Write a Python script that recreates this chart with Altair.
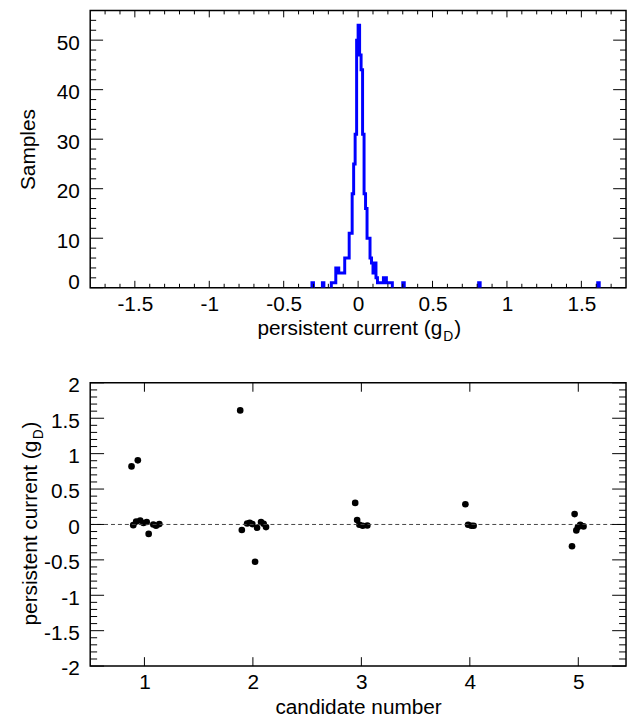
import altair as alt
import pandas as pd

FONT = "Liberation Sans"
FS = 21

# ---------------- top panel: histogram of persistent current ----------------
bin_width = 0.01
bin_left = [-0.31, -0.24, -0.18, -0.17, -0.16, -0.15, -0.14, -0.13, -0.12, -0.11,
            -0.10, -0.09, -0.08, -0.07, -0.06, -0.05, -0.04, -0.03, -0.02, -0.01,
            0.00, 0.01, 0.02, 0.03, 0.04, 0.05, 0.06, 0.07, 0.08, 0.09,
            0.10, 0.11, 0.12, 0.13, 0.14, 0.15, 0.16, 0.17, 0.18, 0.19,
            0.20, 0.21, 0.22, 0.30, 0.81, 1.61]
bin_count = [1, 1, 1, 1, 1, 4, 4, 3, 3, 3,
             3, 6, 6, 6, 11, 11, 19, 25, 31, 50,
             53, 47, 44, 31, 19, 16, 10, 10, 6, 5,
             3, 5, 2, 1, 1, 1, 1, 2, 2, 1,
             1, 1, 1, 1, 1, 1]

hist_x_labels = [-1.5, -1, -0.5, 0, 0.5, 1, 1.5]
hist_y_labels = [0, 10, 20, 30, 40, 50]

# ---------------- bottom panel: candidates ----------------
cand_x = [0.881, 0.939, 0.897, 0.924, 0.961, 0.991, 1.021, 1.039, 1.082, 1.107, 1.137,
          1.883, 1.898, 1.947, 1.971, 1.995, 2.020, 2.038, 2.075, 2.099, 2.121,
          2.943, 2.961, 2.982, 3.012, 3.055,
          3.959, 3.984, 4.014, 4.035,
          4.942, 4.966, 4.982, 4.997, 5.018, 5.048]
cand_y = [0.82, 0.905, -0.01, 0.04, 0.056, 0.02, 0.034, -0.134, 0.0, -0.018, 0.005,
          1.61, -0.079, 0.014, 0.024, 0.005, -0.527, -0.046, 0.034, 0.01, -0.037,
          0.304, 0.062, -0.004, -0.018, -0.014,
          0.286, -0.004, -0.018, -0.018,
          -0.308, 0.146, -0.084, -0.036, -0.004, -0.028]

cand_x_labels = [1, 2, 3, 4, 5]
cand_y_labels = [-2, -1.5, -1, -0.5, 0, 0.5, 1, 1.5, 2]
zero_level = [0]

title_main = "persistent current (g"
title_sub = "D"
title_close = ")"
y_title_top = "Samples"
x_title_bottom = "candidate number"

W = 541
H1 = 280
H2 = 286
MAIN_W = 187   # approx. pixel width of title_main
SUB_W = 10


def outline(lefts, counts, w):
    rows = []
    run = 0
    prev_right = None
    for left, c in sorted(zip(lefts, counts)):
        if c <= 0:
            continue
        if prev_right is None or abs(left - prev_right) > 1e-6:
            if prev_right is not None:
                rows.append((prev_right, 0, run))
                run += 1
            rows.append((left, 0, run))
        right = round(left + w, 4)
        rows.append((left, c, run))
        rows.append((right, c, run))
        prev_right = right
    rows.append((prev_right, 0, run))
    return pd.DataFrame({"x": [r[0] for r in rows], "y": [r[1] for r in rows],
                         "run": [r[2] for r in rows], "i": list(range(len(rows)))})


def tick_layers(vals, orient, length, scale, axis, w, h):
    df = pd.DataFrame({"v": vals})
    base = alt.Chart(df).mark_rule(color="black", strokeWidth=1)
    if orient == "x":
        enc = alt.X("v:Q", scale=scale, axis=axis)
        return [base.encode(x=enc, y=alt.value(h), y2=alt.value(h - length)),
                base.encode(x=enc, y=alt.value(0), y2=alt.value(length))]
    enc = alt.Y("v:Q", scale=scale, axis=axis)
    return [base.encode(y=enc, x=alt.value(0), x2=alt.value(length)),
            base.encode(y=enc, x=alt.value(w), x2=alt.value(w - length))]


def text_layer(txt, x, y, size, align, angle=0, dx=0, dy=0):
    return alt.Chart(pd.DataFrame({"a": [0]})).mark_text(
        text=txt, font=FONT, fontSize=size, align=align, baseline="alphabetic",
        angle=angle, dx=dx, dy=dy, color="black"
    ).encode(x=alt.value(x), y=alt.value(y))


# ---------- top ----------
xs1 = alt.Scale(domain=[-1.8, 1.8], nice=False, zero=False)
ys1 = alt.Scale(domain=[0, 56], nice=False, zero=False)

ax_x1 = alt.Axis(values=hist_x_labels, ticks=False, domain=False, grid=False,
                 labelExpr="'' + datum.value", labelPadding=6, title=None)
ax_y1 = alt.Axis(values=hist_y_labels, ticks=False, domain=False, grid=False,
                 labelExpr="'' + datum.value", labelPadding=11, labelOffset=3,
                 labelFlush=True, labelFlushOffset=2,
                 title=y_title_top, titlePadding=18)

hist = alt.Chart(outline(bin_left, bin_count, bin_width)).mark_line(
    color="#0000ff", strokeWidth=3, clip=True, strokeJoin="miter"
).encode(
    x=alt.X("x:Q", scale=xs1, axis=ax_x1),
    y=alt.Y("y:Q", scale=ys1, axis=ax_y1),
    order="i:Q",
    detail="run:N",
)

x1_minor = [round(i * 0.1, 1) for i in range(-17, 18) if i % 5 != 0]
y1_minor = [v for v in range(2, 56, 2) if v % 10 != 0]

top_layers = [hist]
top_layers += tick_layers(hist_x_labels, "x", 7, xs1, ax_x1, W, H1)
top_layers += tick_layers(x1_minor, "x", 4, xs1, ax_x1, W, H1)
top_layers += tick_layers(hist_y_labels, "y", 13, ys1, ax_y1, W, H1)
top_layers += tick_layers(y1_minor, "y", 6, ys1, ax_y1, W, H1)

# title with subscript
xa = W / 2 - (MAIN_W + SUB_W + 7) / 2 + MAIN_W
ya = H1 + 48
top_layers += [
    text_layer(title_main, xa, ya, FS, "right"),
    text_layer(title_sub, xa + 1, ya + 6, 14, "left"),
    text_layer(title_close, xa + SUB_W + 2, ya, FS, "left"),
]
top = alt.layer(*top_layers).properties(width=W, height=H1)

# ---------- bottom ----------
xs2 = alt.Scale(domain=[0.5, 5.44], nice=False, zero=False)
ys2 = alt.Scale(domain=[-2, 2], nice=False, zero=False)

ax_x2 = alt.Axis(values=cand_x_labels, ticks=False, domain=False, grid=False,
                 labelExpr="'' + datum.value", labelPadding=6,
                 title=x_title_bottom, titlePadding=4)
ax_y2 = alt.Axis(values=cand_y_labels, ticks=False, domain=False, grid=False,
                 labelExpr="'' + datum.value", labelPadding=11, labelOffset=3,
                 title=None)

zero = alt.Chart(pd.DataFrame({"z": zero_level})).mark_rule(
    color="#444444", strokeWidth=1, strokeDash=[4, 3]
).encode(y=alt.Y("z:Q", scale=ys2, axis=ax_y2), x=alt.value(0), x2=alt.value(W))

pts = alt.Chart(pd.DataFrame({"c": cand_x, "p": cand_y})).mark_circle(
    size=45, color="black", opacity=1
).encode(
    x=alt.X("c:Q", scale=xs2, axis=ax_x2),
    y=alt.Y("p:Q", scale=ys2, axis=ax_y2),
)

y2_minor = [round(i * 0.1, 1) for i in range(-19, 20) if i % 5 != 0]

bot_layers = [pts, zero]
bot_layers += tick_layers(cand_x_labels, "x", 9, xs2, ax_x2, W, H2)
bot_layers += tick_layers(cand_y_labels, "y", 14, ys2, ax_y2, W, H2)
bot_layers += tick_layers(y2_minor, "y", 7, ys2, ax_y2, W, H2)

bx = -54
by = H2 / 2 + (MAIN_W + SUB_W + 7) / 2
bot_layers += [
    text_layer(title_main, bx, by, FS, "left", angle=270),
    text_layer(title_sub, bx, by - MAIN_W - 1, 14, "left", angle=270, dy=6),
    text_layer(title_close, bx, by - MAIN_W - SUB_W - 2, FS, "left", angle=270),
]
bottom = alt.layer(*bot_layers).properties(width=W, height=H2)

chart = alt.vconcat(top, bottom, spacing=29).properties(
    padding={"left": 8, "top": -3, "right": 0, "bottom": 0}
).configure_view(
    stroke="black", strokeWidth=1.5
).configure_axis(
    labelFont=FONT, labelFontSize=FS, labelColor="black",
    titleFont=FONT, titleFontSize=FS, titleFontWeight="normal", titleColor="black"
)

chart.save("out.html", embed_options={"renderer": "svg", "actions": False})
